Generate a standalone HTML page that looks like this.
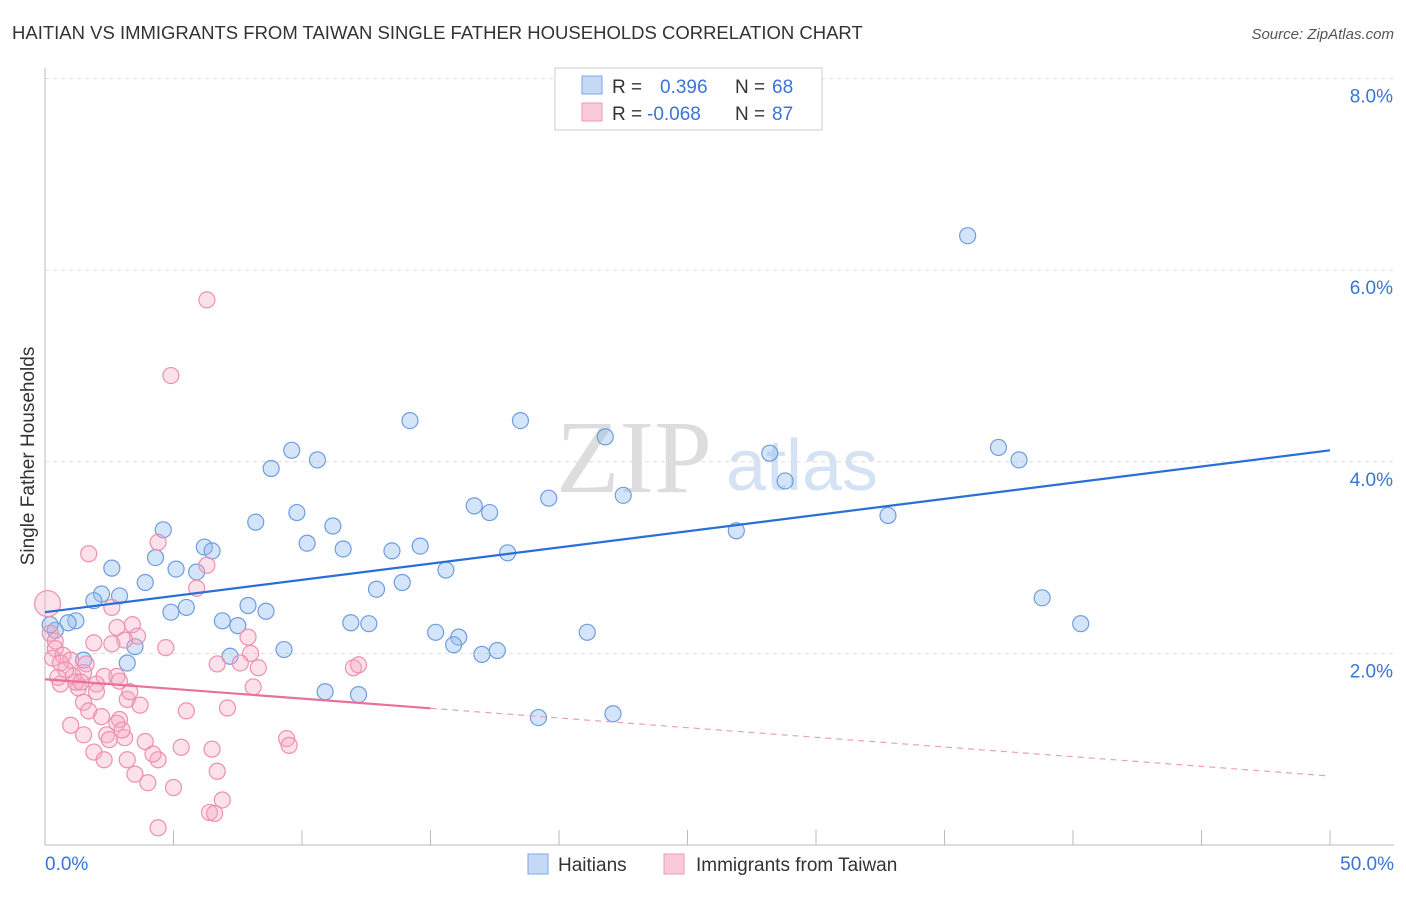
<!DOCTYPE html>
<html><head><meta charset="utf-8"><style>
body{margin:0;background:#fff;font-family:"Liberation Sans",sans-serif}
</style></head><body>
<svg id="c" width="1406" height="892" xmlns="http://www.w3.org/2000/svg">
<text x="12" y="39" font-size="18.5" fill="#333">HAITIAN VS IMMIGRANTS FROM TAIWAN SINGLE FATHER HOUSEHOLDS CORRELATION CHART</text>
<text x="1394" y="39" font-size="15" fill="#555" text-anchor="end" font-style="italic">Source: ZipAtlas.com</text>
<text x="634" y="492" font-size="104" fill="#ddd" font-family="Liberation Serif,serif" text-anchor="middle">ZIP</text>
<text x="802" y="490" font-size="72" fill="#d4e2f4" text-anchor="middle">atlas</text>
<text x="34" y="456" font-size="19" fill="#333" text-anchor="middle" transform="rotate(-90 34 456)">Single Father Households</text>
<g id="grid"></g><g id="pts"></g><g id="lines"></g>
<g>
<rect x="555" y="68" width="267" height="62" fill="#fff" stroke="#ccc"/>
<rect x="582" y="76" width="20" height="18" fill="#c5d9f5" stroke="#7aa6e6"/>
<rect x="582" y="103" width="20" height="18" fill="#f9cbd9" stroke="#ef9ab5"/>
<text x="612" y="93" font-size="19" fill="#333">R = </text><text x="660" y="93" font-size="19" fill="#3a74d6">0.396</text>
<text x="735" y="93" font-size="19" fill="#333">N = </text><text x="772" y="93" font-size="19" fill="#3a74d6">68</text>
<text x="612" y="120" font-size="19" fill="#333">R = </text><text x="647" y="120" font-size="19" fill="#3a74d6">-0.068</text>
<text x="735" y="120" font-size="19" fill="#333">N = </text><text x="772" y="120" font-size="19" fill="#3a74d6">87</text>
</g>
<g>
<rect x="528" y="854" width="20" height="20" fill="#c5d9f5" stroke="#7aa6e6"/>
<text x="558" y="871" font-size="19" fill="#333">Haitians</text>
<rect x="664" y="854" width="20" height="20" fill="#f9cbd9" stroke="#ef9ab5"/>
<text x="696" y="871" font-size="19" fill="#333">Immigrants from Taiwan</text>
</g>
</svg>
<script>
const yTicks=[2,4,6,8];
const xTickLabels=["0.0%","50.0%"];
const blueX=[35.9,14.2,18.5,9.6,10.6,8.8,21.8,28.2,37.1,37.9,28.8,19.6,22.5,16.7,17.3,9.8,8.2,11.2,4.6,32.8,26.9,10.2,11.6,13.5,14.6,18.0,6.2,6.5,4.3,2.6,5.1,5.9,15.6,3.9,12.9,13.9,2.2,2.9,1.9,7.9,8.6,5.5,4.9,6.9,7.5,11.9,12.6,1.2,0.9,0.4,0.2,15.2,16.1,15.9,21.1,38.8,40.3,3.5,1.5,3.2,7.2,9.3,17.0,17.6,10.9,12.2,19.2,22.1];
const blueY=[6.36,4.43,4.43,4.12,4.02,3.93,4.26,4.09,4.15,4.02,3.80,3.62,3.65,3.54,3.47,3.47,3.37,3.33,3.29,3.44,3.28,3.15,3.09,3.07,3.12,3.05,3.11,3.07,3.0,2.89,2.88,2.85,2.87,2.74,2.67,2.74,2.62,2.60,2.55,2.50,2.44,2.48,2.43,2.34,2.29,2.32,2.31,2.34,2.32,2.24,2.30,2.22,2.17,2.09,2.22,2.58,2.31,2.07,1.93,1.90,1.97,2.04,1.99,2.03,1.60,1.57,1.33,1.37];
const pinkX=[6.3,4.9,4.4,1.7,6.3,5.9,2.6,3.4,2.8,0.1,0.2,0.4,3.6,1.9,3.1,7.9,4.7,8.0,0.4,0.7,1.0,1.6,6.7,8.3,12.0,12.2,2.3,2.8,1.5,1.1,2.0,1.3,0.6,0.8,2.9,8.1,3.2,3.7,1.5,1.7,5.5,7.1,2.2,2.9,2.8,2.4,2.5,3.1,1.5,9.4,9.5,3.9,5.3,6.5,1.9,2.3,3.2,4.4,3.5,6.7,4.0,5.0,6.9,6.4,6.6,4.4,0.3,0.5,1.2,2.0,3.0,1.0,0.6,1.4,3.3,7.6,2.6,4.2];
const pinkY=[5.69,4.90,3.16,3.04,2.92,2.68,2.48,2.30,2.27,2.52,2.21,2.13,2.18,2.11,2.14,2.17,2.06,2.0,2.05,1.98,1.93,1.89,1.89,1.85,1.85,1.88,1.76,1.76,1.80,1.76,1.68,1.64,1.68,1.83,1.71,1.65,1.52,1.46,1.49,1.40,1.40,1.43,1.34,1.31,1.27,1.15,1.10,1.12,1.15,1.11,1.04,1.08,1.02,1.00,0.97,0.89,0.89,0.89,0.74,0.77,0.65,0.60,0.47,0.34,0.33,0.18,1.95,1.75,1.70,1.60,1.20,1.25,1.90,1.70,1.60,1.90,2.10,0.95];
const blueFit=[2.43,4.12];
const pinkFit=[1.73,0.72];
const NS="http://www.w3.org/2000/svg";
const X=v=>45+v*25.7, Y=v=>845-v*95.8;
function mk(t,a,p){const e=document.createElementNS(NS,t);for(const k in a)e.setAttribute(k,a[k]);p.appendChild(e);return e;}
const g=document.getElementById('grid'),P=document.getElementById('pts'),L=document.getElementById('lines');
mk('line',{x1:45,y1:68,x2:45,y2:845,stroke:'#bbb'},g);
mk('line',{x1:45,y1:845,x2:1394,y2:845,stroke:'#bbb'},g);
yTicks.forEach(t=>{mk('line',{x1:45,y1:Y(t),x2:1394,y2:Y(t),stroke:'#ddd','stroke-dasharray':'4,4'},g);
const tx=mk('text',{x:1393,y:Y(t)+24,'font-size':19,fill:'#3a74d6','text-anchor':'end'},g);tx.textContent=t.toFixed(1)+'%';

});
for(let i=0;i<=10;i++){mk('line',{x1:X(i*5),y1:830,x2:X(i*5),y2:845,stroke:'#bbb'},g);}
xTickLabels.forEach((s,i)=>{const tx=mk('text',{x:i?1394:45,y:870,'font-size':19,fill:'#3a74d6','text-anchor':i?'end':'start'},g);tx.textContent=s;

});
blueX.forEach((x,i)=>{const c=mk('circle',{cx:X(x),cy:Y(blueY[i]),r:8,fill:'rgba(150,190,240,0.4)',stroke:'#6d9de0','stroke-width':1.2},P);

});
pinkX.forEach((x,i)=>{const c=mk('circle',{cx:X(x),cy:Y(pinkY[i]),r:(x<0.2?13:8),fill:'rgba(245,170,195,0.35)',stroke:'#ee8fb0','stroke-width':1.2},P);

});
let l=mk('line',{x1:X(0),y1:Y(blueFit[0]),x2:X(50),y2:Y(blueFit[1]),stroke:'#2a6fd6','stroke-width':2.2},L);


const py=x=>pinkFit[0]+(pinkFit[1]-pinkFit[0])*x/50;
l=mk('line',{x1:X(0),y1:Y(py(0)),x2:X(15),y2:Y(py(15)),stroke:'#e8709a','stroke-width':2.2},L);


l=mk('line',{x1:X(15),y1:Y(py(15)),x2:X(50),y2:Y(py(50)),stroke:'#e8a0b8','stroke-width':1.2,'stroke-dasharray':'6,5'},L);


</script>
</body></html>
